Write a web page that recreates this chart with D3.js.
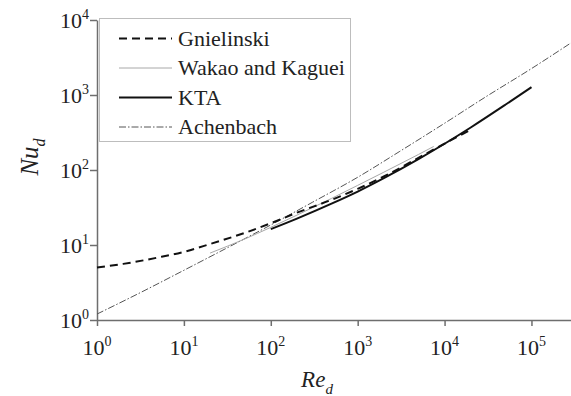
<!DOCTYPE html>
<html><head><meta charset="utf-8">
<script src="https://cdn.jsdelivr.net/npm/d3@7"></script>
</head>
<body style="margin:0">
<svg id="c" width="571" height="396"></svg>
<script>
// ---- data ----
const seriesNames = ["Gnielinski", "Wakao and Kaguei", "KTA", "Achenbach"];
const gnielinskiRe = [1, 2, 5, 10, 20, 50, 100, 200, 500, 1000, 2000, 5000, 10000, 20000];
const gnielinskiNu = [5.0, 5.6, 6.8, 8.1, 10.3, 14.5, 19.5, 27, 40, 56, 82, 145, 225, 345];
const wakaoRe = [20, 50, 100, 200, 500, 1000, 2000, 5000, 7500];
const wakaoNu = [7.8, 12.0, 17.2, 25, 41.8, 62.4, 93.5, 161, 206];
const ktaRe = [100, 200, 500, 1000, 2000, 5000, 10000, 20000, 50000, 100000];
const ktaNu = [16.3, 22.5, 35.6, 51.6, 77.9, 139.7, 224, 369, 741, 1273];
const achenbachRe = [1, 3, 10, 30, 100, 300, 1000, 3000, 10000, 30000, 100000, 300000];
const achenbachNu = [1.2, 2.25, 4.6, 8.9, 18.5, 37, 80, 175, 420, 950, 2250, 5150];
const xMajorExps = [0, 1, 2, 3, 4, 5];
const yMajorExps = [0, 1, 2, 3, 4];

const FONT = "'Liberation Serif', monospace";
const svg = d3.select("#c");
const x = d3.scaleLog().domain([1, Math.pow(10, 5.455)]).range([97, 571]);
const y = d3.scaleLog().domain([1, 1e4]).range([320, 20]);

function minorTicks(scale, exps) {
  const out = [];
  const [d0, d1] = scale.domain();
  for (const e of exps) for (let k = 2; k <= 9; k++) {
    const v = k * Math.pow(10, e);
    if (v > d0 && v < d1) out.push(v);
  }
  return out;
}
const axisColor = "#6e6e6e";

// x axis
const gx = svg.append("g").attr("transform", "translate(0,320)");
gx.call(d3.axisBottom(x).tickValues(minorTicks(x, xMajorExps)).tickSize(4).tickSizeOuter(0).tickFormat(""));
gx.call(d3.axisBottom(x).tickValues(xMajorExps.map(e => Math.pow(10, e))).tickSize(6).tickSizeOuter(0).tickFormat(""));
gx.selectAll("path,line").attr("stroke", axisColor).attr("stroke-width", 1.5);
gx.attr("font-family", null);

// y axis
const gy = svg.append("g").attr("transform", "translate(97,0)");
gy.call(d3.axisLeft(y).tickValues(minorTicks(y, yMajorExps)).tickSize(4).tickSizeOuter(0).tickFormat(""));
gy.call(d3.axisLeft(y).tickValues(yMajorExps.map(e => Math.pow(10, e))).tickSize(7).tickSizeOuter(0).tickFormat(""));
gy.selectAll("path,line").attr("stroke", axisColor).attr("stroke-width", 1.5);
gy.attr("font-family", null);

function addText(sel, size) {
  return sel.append("text").attr("font-size", size);
}
function addSpan(t, size) {
  return t.append("tspan").attr("font-size", size);
}

// tick labels 10^n
xMajorExps.forEach(e => {
  const t = addText(svg, 22).attr("x", x(Math.pow(10, e))).attr("y", 355)
    .attr("text-anchor", "middle").attr("fill", "#222");
  addSpan(t, 22).text("10");
  addSpan(t, 14).attr("dy", -9).text(e);
});
yMajorExps.forEach(e => {
  const t = addText(svg, 22).attr("x", 89).attr("y", y(Math.pow(10, e)) + 8)
    .attr("text-anchor", "end").attr("fill", "#222");
  addSpan(t, 22).text("10");
  addSpan(t, 14).attr("dy", -9).text(e);
});

// axis titles
const xt = addText(svg, 23).attr("x", 317).attr("y", 387).attr("text-anchor", "middle")
  .attr("font-style", "italic").attr("fill", "#222");
addSpan(xt, 23).text("Re");
addSpan(xt, 15).attr("dy", 7).text("d");
const yt = addText(svg, 25).attr("transform", "translate(38,157) rotate(-90)").attr("text-anchor", "middle")
  .attr("font-style", "italic").attr("fill", "#222");
addSpan(yt, 25).text("Nu");
addSpan(yt, 16).attr("dy", 7).text("d");

// series
const styles = [
  {stroke: "#111", width: 2, dash: "8,5"},
  {stroke: "#a8a8a8", width: 1, dash: null},
  {stroke: "#111", width: 2, dash: null},
  {stroke: "#555", width: 1, dash: "7,2,1.5,2"}
];
const seriesData = [
  d3.zip(gnielinskiRe, gnielinskiNu),
  d3.zip(wakaoRe, wakaoNu),
  d3.zip(ktaRe, ktaNu),
  d3.zip(achenbachRe, achenbachNu)
];
const line = d3.line().x(d => x(d[0])).y(d => y(d[1])).curve(d3.curveMonotoneX);
const drawOrder = [3, 1, 2, 0];
drawOrder.forEach(i => {
  svg.append("path").datum(seriesData[i]).attr("d", line).attr("fill", "none")
    .attr("stroke", styles[i].stroke).attr("stroke-width", styles[i].width)
    .attr("stroke-dasharray", styles[i].dash);
});

// legend
const lg = svg.append("g");
lg.append("rect").attr("x", 99.5).attr("y", 18.5).attr("width", 251).attr("height", 123)
  .attr("fill", "#fff").attr("stroke", "#bdbdbd").attr("stroke-width", 1);
const legendY = [38.5, 68, 97.5, 127];
seriesNames.forEach((name, i) => {
  lg.append("line").attr("x1", 119).attr("x2", 172).attr("y1", legendY[i]).attr("y2", legendY[i])
    .attr("stroke", styles[i].stroke).attr("stroke-width", styles[i].width)
    .attr("stroke-dasharray", styles[i].dash);
  addText(lg, 22).attr("x", 178).attr("y", legendY[i] + 7)
    .attr("fill", "#222").text(name);
});

// apply the serif face to every text at the end
svg.selectAll("text, tspan").style("font-family", FONT, "important");
</script></body></html>
